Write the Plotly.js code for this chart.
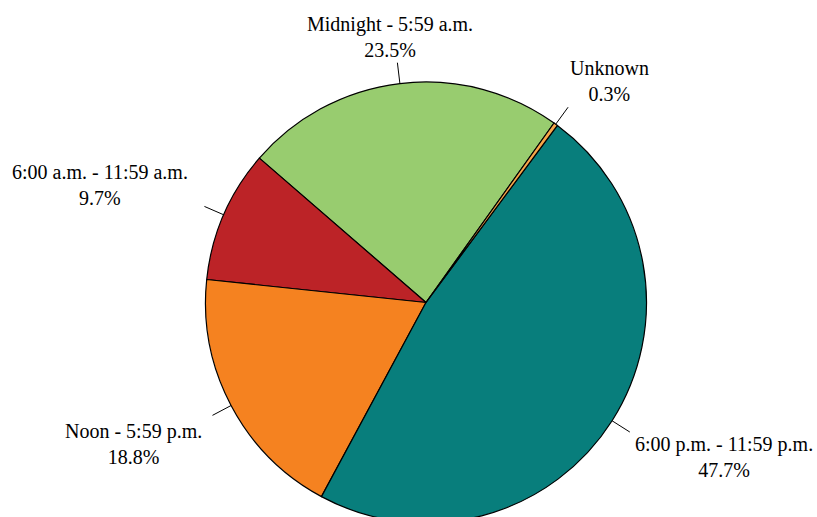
<!DOCTYPE html>
<html>
<head>
<meta charset="utf-8">
<script src="https://cdn.plot.ly/plotly-3.0.1.min.js"></script>
<style>
html,body{margin:0;padding:0;overflow:hidden;background:#fff;}
#chart{width:817px;height:523px;}
</style>
</head>
<body>
<div id="chart"></div>
<script>
// Data
var categories = ["Midnight - 5:59 a.m.", "6:00 a.m. - 11:59 a.m.", "Noon - 5:59 p.m.", "6:00 p.m. - 11:59 p.m.", "Unknown"];
var shares = [23.5, 9.7, 18.8, 47.7, 0.3];
var sliceColors = ["#98CC6F", "#BC2327", "#F58220", "#087E7C", "#F8A74A"];

// Layout geometry
var W = 817, H = 523;
var M = {l: 176, r: 141, t: 82, b: 0};
var pw = W - M.l - M.r, ph = H - M.t - M.b;
var R = Math.min(pw, ph) / 2;
var cx = M.l + pw / 2, cy = M.t + ph / 2;
var startAngle = 35.5; // clockwise edge of the first slice, degrees clockwise from 12 o'clock
function px2paperX(x){ return (x - M.l) / pw; }
function px2paperY(y){ return (M.t + ph - y) / ph; }

var total = shares.reduce(function(a,b){return a+b;}, 0);
// plotly (counterclockwise): first slice occupies [rotation, rotation + its angle]
var rotation = startAngle - 360 * shares[0] / total;

// leader ticks computed from slice mid-angles
var shapes = [];
var cum = 0;
shares.forEach(function(v){
  var mid = cum + v / 2;
  cum += v;
  var ang = (startAngle - 360 * mid / total) * Math.PI / 180;
  var x0 = cx + R * Math.sin(ang), y0 = cy - R * Math.cos(ang);
  var x1 = cx + (R + 21) * Math.sin(ang), y1 = cy - (R + 21) * Math.cos(ang);
  shapes.push({type: "line", xref: "paper", yref: "paper",
    x0: px2paperX(x0), y0: px2paperY(y0), x1: px2paperX(x1), y1: px2paperY(y1),
    line: {color: "#000", width: 1}});
});

var FONT = "'Liberation Serif', 'Times New Roman', Times, serif";
// label centers (pixels)
var labelCenters = [[390, 37], [100, 185], [133, 444], [724, 457], [609, 81]];
var annotations = categories.map(function(c, i){
  return {xref: "paper", yref: "paper",
    x: px2paperX(labelCenters[i][0]), y: px2paperY(labelCenters[i][1]),
    xanchor: "center", yanchor: "middle", showarrow: false,
    text: c + "<br>" + shares[i].toFixed(1) + "%",
    font: {family: FONT, size: 20, color: "#000"}};
});

var trace = {
  type: "pie",
  labels: categories,
  values: shares,
  sort: false,
  direction: "counterclockwise",
  rotation: rotation,
  textinfo: "none",
  hoverinfo: "label+percent",
  marker: {colors: sliceColors, line: {color: "#000", width: 1.2}},
  showlegend: false
};

var layout = {
  width: W, height: H,
  margin: M,
  paper_bgcolor: "#fff",
  plot_bgcolor: "#fff",
  showlegend: false,
  shapes: shapes,
  annotations: annotations,
  font: {family: FONT, size: 20, color: "#000"}
};

Plotly.newPlot("chart", [trace], layout, {displayModeBar: false});
</script>
</body>
</html>
